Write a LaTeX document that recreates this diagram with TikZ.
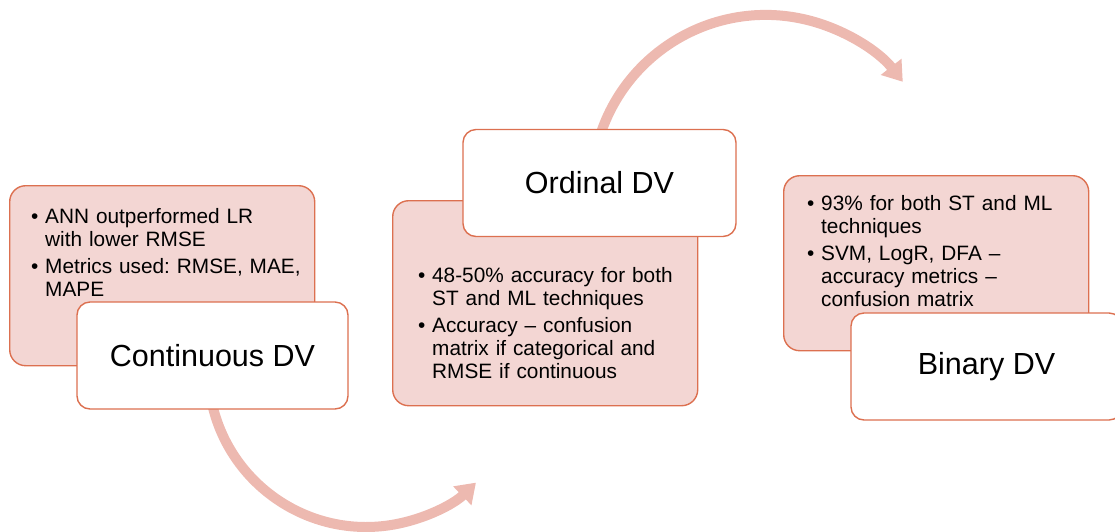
\documentclass[tikz,border=0pt]{standalone}
\usepackage{fontspec}
\setmainfont{Liberation Sans}
\usetikzlibrary{arrows.meta}
\frenchspacing

\definecolor{pinkfill}{RGB}{243,214,211}
\definecolor{edgecol}{RGB}{220,112,80}
\definecolor{flowcol}{RGB}{237,185,176}

% one bullet point with a hanging indent; lines are broken with \newline
\newcommand{\bpoint}[1]{\par\hangindent=14pt\hangafter=1\noindent\makebox[14pt][l]{\textbullet}#1}

\tikzset{
  pinkbox/.style={draw=edgecol, fill=pinkfill, line width=1.4pt, rounded corners=16pt,
    anchor=north west, inner sep=0pt, minimum width=305pt},
  whitebox/.style={draw=edgecol, fill=white, line width=1.4pt, rounded corners=13pt,
    inner sep=0pt, minimum width=271pt, minimum height=107pt,
    font=\fontsize{30.5}{36}\selectfont},
  bultext/.style={anchor=north west, inner sep=0pt, text width=290pt,
    font=\fontsize{20.8}{23}\selectfont\raggedright\frenchspacing\setlength\parskip{3.5pt}},
  flow/.style={draw=flowcol, line width=10pt, -{Triangle[width=25pt,length=19pt]}}
}

\begin{document}
\begin{tikzpicture}[x=1pt, y=-1pt]
\useasboundingbox (0,0) rectangle (1115,531);
\clip (0,0) rectangle (1115,531);

% curved arrows between the stages
\coordinate (lowstart) at (210.6,396.4);
\coordinate (highstart) at (597.6,143.9);
\draw[flow] (lowstart) arc[start angle=190, end angle=314, radius=158pt];
\draw[flow] (highstart) arc[start angle=165, end angle=38, radius=174pt];

% continuous dependent variable
\node[pinkbox, minimum height=180pt] (p1) at (9,185) {};
\node[bultext] (t1) at (31,197) {%
  \bpoint{ANN outperformed LR\newline with lower RMSE}
  \bpoint{Metrics used: RMSE, MAE,\newline MAPE}\par};
\node[whitebox] (w1) at (212.5,355.5) {Continuous DV};

% ordinal dependent variable
\node[pinkbox, minimum height=205pt] (p2) at (392,200) {};
\node[bultext] (t2) at (418,256) {%
  \bpoint{48-50\% accuracy for both\newline ST and ML techniques}
  \bpoint{Accuracy -- confusion\newline matrix if categorical and\newline RMSE if continuous}\par};
\node[whitebox, minimum width=273pt] (w2) at (599.5,183) {Ordinal DV};

% binary dependent variable
\node[pinkbox, minimum height=175pt] (p3) at (783,175) {};
\node[bultext] (t3) at (807,184) {%
  \bpoint{93\% for both ST and ML\newline techniques}
  \bpoint{SVM, LogR, DFA --\newline accuracy metrics --\newline confusion matrix}\par};
\node[whitebox] (w3) at (986.5,366.5) {Binary DV};
\end{tikzpicture}
\end{document}
